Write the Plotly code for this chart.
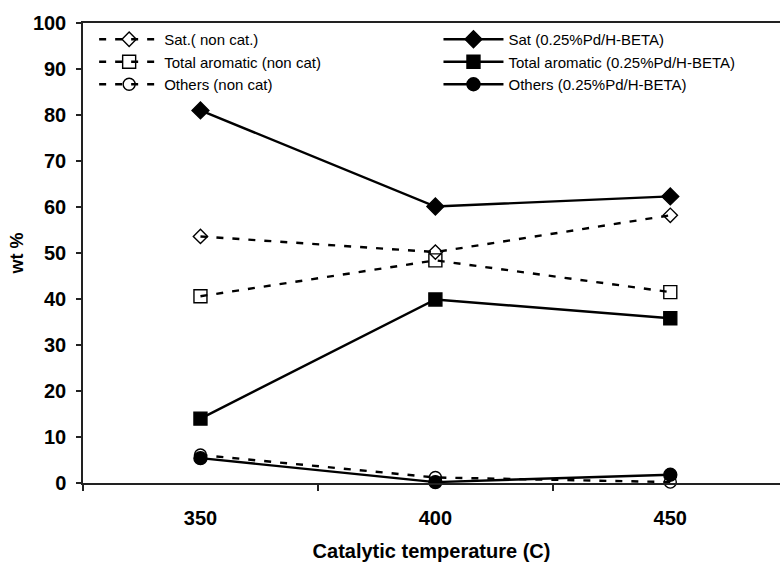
import plotly.graph_objects as go

# Catalytic temperatures (categories) and product composition in wt %
temperatures = ["350", "400", "450"]

sat_non_cat = [53.6, 50.2, 58.2]
aromatic_non_cat = [40.6, 48.4, 41.5]
others_non_cat = [6.1, 1.2, 0.2]

sat_cat = [81.0, 60.1, 62.3]
aromatic_cat = [14.0, 39.9, 35.8]
others_cat = [5.4, 0.2, 1.8]

y_tick_values = [0, 10, 20, 30, 40, 50, 60, 70, 80, 90, 100]

FONT = "Arial, 'Liberation Sans', sans-serif"
DASH = "7px,9px"

fig = go.Figure()


def add_series(name, values, symbol, size, dash, legend):
    fig.add_trace(
        go.Scatter(
            x=temperatures,
            y=values,
            name=name,
            mode="lines+markers",
            line=dict(color="black", width=2.4, dash=dash),
            marker=dict(symbol=symbol, size=size, color="black",
                        line=dict(color="black", width=1.4)),
            legend=legend,
            cliponaxis=False,
        )
    )


# uncatalysed runs (dashed, open markers)
add_series("Sat.( non cat.)", sat_non_cat, "diamond-open", 11, DASH, "legend")
add_series("Total aromatic (non cat)", aromatic_non_cat, "square-open", 13, DASH, "legend")
add_series("Others (non cat)", others_non_cat, "circle-open", 12, DASH, "legend")

# catalysed runs (solid, filled markers)
add_series("Sat (0.25%Pd/H-BETA)", sat_cat, "diamond", 13, "solid", "legend2")
add_series("Total aromatic (0.25%Pd/H-BETA)", aromatic_cat, "square", 13, "solid", "legend2")
add_series("Others (0.25%Pd/H-BETA)", others_cat, "circle", 13, "solid", "legend2")

legend_style = dict(
    font=dict(family=FONT, size=15, color="black"),
    bgcolor="rgba(0,0,0,0)",
    borderwidth=0,
    yanchor="top",
    xanchor="left",
    tracegroupgap=0,
    itemwidth=60,
)

fig.update_layout(
    width=780,
    height=568,
    autosize=False,
    margin=dict(l=83, r=0, t=23, b=85),
    paper_bgcolor="white",
    plot_bgcolor="white",
    showlegend=True,
    legend=dict(legend_style, x=0.016, y=1.0),
    legend2=dict(legend_style, x=0.51, y=1.0),
    xaxis=dict(
        type="category",
        range=[-0.5, 2.467],
        tickson="boundaries",
        ticks="outside",
        ticklen=6,
        tickwidth=1.5,
        tickcolor="#222",
        showline=True,
        linecolor="#222",
        linewidth=1.5,
        mirror=True,
        showgrid=False,
        zeroline=False,
        tickfont=dict(family=FONT, size=20, color="black", weight="bold"),
        ticklabelstandoff=16,
        title=dict(
            text="Catalytic temperature (C)",
            font=dict(family=FONT, size=20, color="black", weight="bold"),
            standoff=16,
        ),
    ),
    yaxis=dict(
        range=[0, 100],
        tickvals=y_tick_values,
        ticks="outside",
        ticklen=5,
        tickwidth=1.5,
        tickcolor="#222",
        showline=True,
        linecolor="#222",
        linewidth=1.5,
        showgrid=False,
        zeroline=False,
        tickfont=dict(family=FONT, size=20, color="black", weight="bold"),
        ticklabelstandoff=6,
        title=dict(
            text="wt %",
            font=dict(family=FONT, size=18, color="black", weight="bold"),
            standoff=5,
        ),
    ),
)

fig.write_html("out.html")
